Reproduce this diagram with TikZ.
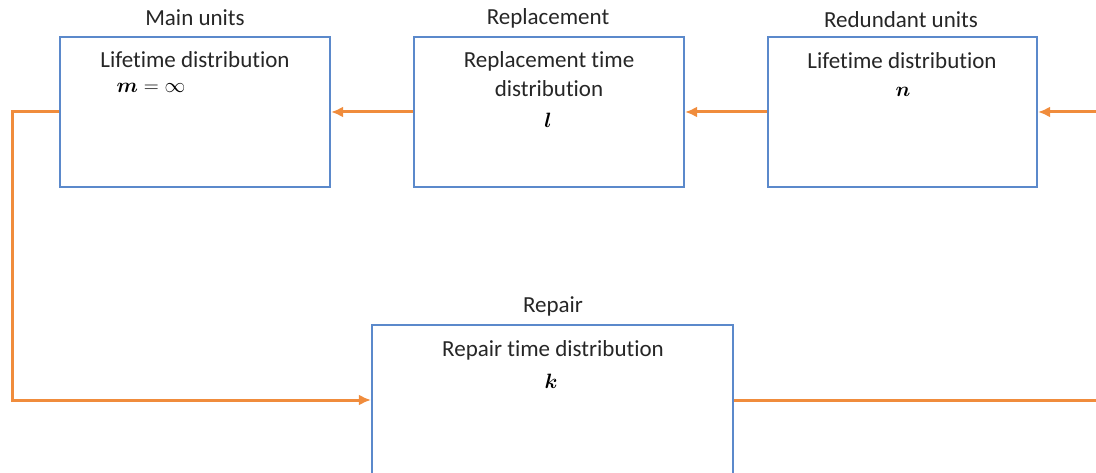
\documentclass[tikz,border=0pt]{standalone}
\usepackage{amsmath,amssymb}
\usepackage{fontspec}
\setmainfont[Ligatures={NoCommon}]{Carlito}
\usetikzlibrary{arrows.meta}
\definecolor{boxblue}{RGB}{91,137,203}
\definecolor{arrorange}{RGB}{240,140,60}
\tikzset{
  unitbox/.style={draw=boxblue,line width=2.2pt,fill=white,inner sep=0pt},
  lbl/.style={font=\fontsize{23}{27}\selectfont,inner sep=0pt,text=black!85},
  mth/.style={font=\fontsize{22}{26}\selectfont,inner sep=0pt},
  flow/.style={draw=arrorange,line width=3pt,-{Latex[length=12pt,width=11pt]}},
}
\begin{document}
\begin{tikzpicture}[x=1pt,y=-1pt]
\useasboundingbox (0,0) rectangle (1096,473);
% boxes
\node[unitbox,minimum width=270pt,minimum height=150pt] (main) at (195,112) {};
\node[unitbox,minimum width=270pt,minimum height=150pt] (repl) at (549,112) {};
\node[unitbox,minimum width=269pt,minimum height=150pt] (red) at (902.5,112) {};
\node[unitbox,minimum width=361pt,minimum height=150pt] (rep) at (552.5,400) {};
% titles
\node[lbl] (tmain) at (195,18) {Main units};
\node[lbl] (trepl) at (548,18) {Replacement};
\node[lbl] (tred) at (901,20) {Redundant units};
\node[lbl] (trep) at (553,306) {Repair};
% contents
\node[lbl] (main1) at (195,60) {Lifetime distribution};
\node[mth] (main2) at (151,88) {$\boldsymbol{m}=\infty$};
\node[lbl] (repl1) at (549,61) {Replacement time};
\node[lbl] (repl2) at (549,89) {distribution};
\node[mth] (repl3) at (548,120) {$\boldsymbol{l}$};
\node[lbl] (red1) at (902,61) {Lifetime distribution};
\node[mth] (red2) at (903,92) {$\boldsymbol{n}$};
\node[lbl] (rep1) at (553,350) {Repair time distribution};
\node[mth] (rep2) at (551,381) {$\boldsymbol{k}$};
% connectors
\coordinate (lc) at (12,112);
\coordinate (rc) at (1098,400);
\draw[flow] (red.west) -- (repl.east);
\draw[flow] (repl.west) -- (main.east);
\draw[flow] (main.west) -- (lc) |- (rep.west);
\draw[flow] (rep.east) -- (rc) |- (red.east);
\end{tikzpicture}
\end{document}
